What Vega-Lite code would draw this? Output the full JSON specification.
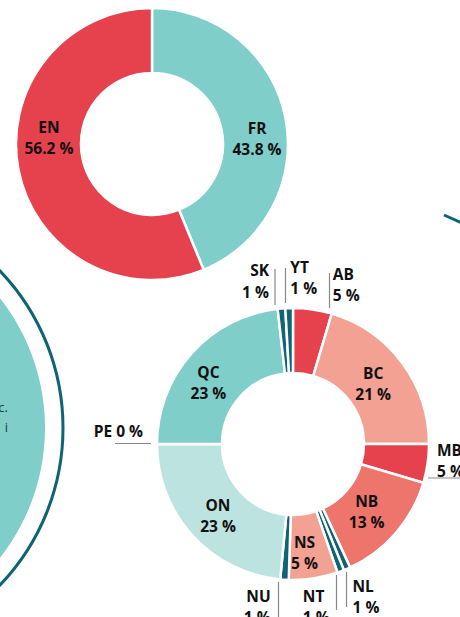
{
  "$schema": "https://vega.github.io/schema/vega-lite/v6.json",
  "width": 460,
  "height": 617,
  "autosize": {"type": "none"},
  "padding": 0,
  "background": "white",
  "config": {
    "view": {"stroke": null},
    "text": {"font": "Open Sans", "fontWeight": "bold", "fontSize": 15.5, "lineBreak": "\n", "lineHeight": 21.2, "color": "#111111", "baseline": "middle"},
    "rule": {"color": "#888888", "strokeWidth": 1.2}
  },
  "data": {"values": [{"item": "canvas"}]},
  "datasets": {
    "lang": [
      {"lang": "FR", "share": 43.8, "label": "FR\n43.8 %"},
      {"lang": "EN", "share": 56.2, "label": "EN\n56.2 %"}
    ],
    "prov": [
      {"prov": "AB", "share": 4.6, "rank": 1, "label": "AB\n5 %"},
      {"prov": "BC", "share": 20.4, "rank": 2, "label": "BC\n21 %"},
      {"prov": "MB", "share": 4.6, "rank": 3, "label": "MB\n5 %"},
      {"prov": "NB", "share": 13.5, "rank": 4, "label": "NB\n13 %"},
      {"prov": "NL", "share": 0.8, "rank": 5, "label": "NL\n1 %"},
      {"prov": "NT", "share": 0.8, "rank": 6, "label": "NT\n1 %"},
      {"prov": "NS", "share": 5.8, "rank": 7, "label": "NS\n5 %"},
      {"prov": "NU", "share": 1.0, "rank": 8, "label": "NU\n1 %"},
      {"prov": "ON", "share": 23.5, "rank": 9, "label": "ON\n23 %"},
      {"prov": "PE", "share": 0, "rank": 10, "label": "PE 0 %"},
      {"prov": "QC", "share": 23.2, "rank": 11, "label": "QC\n23 %"},
      {"prov": "SK", "share": 0.9, "rank": 12, "label": "SK\n1 %"},
      {"prov": "YT", "share": 0.9, "rank": 13, "label": "YT\n1 %"}
    ]
  },
  "resolve": {"scale": {"color": "independent", "theta": "independent"}},
  "layer": [
    {
      "mark": {"type": "point", "shape": "circle", "filled": true, "opacity": 1, "size": 174724, "color": "#7FCECA", "strokeWidth": 0},
      "encoding": {
        "x": {"datum": -164, "type": "quantitative", "scale": {"domain": [0, 460], "nice": false, "zero": false}, "axis": null},
        "y": {"datum": 428, "type": "quantitative", "scale": {"domain": [0, 617], "nice": false, "zero": false, "reverse": true}, "axis": null}
      }
    },
    {
      "mark": {"type": "point", "shape": "circle", "filled": false, "opacity": 1, "size": 206116, "color": "#0E6374", "strokeWidth": 3},
      "encoding": {
        "x": {"datum": -164, "type": "quantitative", "scale": {"domain": [0, 460], "nice": false, "zero": false}, "axis": null},
        "y": {"datum": 428, "type": "quantitative", "scale": {"domain": [0, 617], "nice": false, "zero": false, "reverse": true}, "axis": null}
      }
    },
    {
      "mark": {"type": "text", "align": "right", "baseline": "alphabetic", "fontWeight": "normal", "fontSize": 13, "color": "#1d3b40", "lineBreak": "|", "lineHeight": 20},
      "encoding": {
        "text": {"value": "c.|i"},
        "x": {"datum": 8, "type": "quantitative", "scale": {"domain": [0, 460], "nice": false, "zero": false}, "axis": null},
        "y": {"datum": 412, "type": "quantitative", "scale": {"domain": [0, 617], "nice": false, "zero": false, "reverse": true}, "axis": null}
      }
    },
    {
      "mark": {"type": "rule", "color": "#0E6374", "strokeWidth": 3},
      "encoding": {
        "x": {"datum": 444, "type": "quantitative", "scale": {"domain": [0, 460], "nice": false, "zero": false}, "axis": null},
        "x2": {"datum": 462},
        "y": {"datum": 215, "type": "quantitative", "scale": {"domain": [0, 617], "nice": false, "zero": false, "reverse": true}, "axis": null},
        "y2": {"datum": 223}
      }
    },
    {
      "data": {"name": "lang"},
      "mark": {"type": "arc", "outerRadius": 136, "innerRadius": 71, "stroke": "white", "strokeWidth": 2.5},
      "encoding": {
        "x": {"datum": 152, "type": "quantitative", "scale": {"domain": [0, 460], "nice": false, "zero": false}, "axis": null},
        "y": {"datum": 144, "type": "quantitative", "scale": {"domain": [0, 617], "nice": false, "zero": false, "reverse": true}, "axis": null},
        "theta": {"field": "share", "type": "quantitative", "stack": true},
        "order": {"field": "lang", "sort": "descending"},
        "color": {"field": "lang", "type": "nominal", "scale": {"domain": ["EN", "FR"], "range": ["#E5424D", "#7FCECA"]}, "legend": null}
      }
    },
    {
      "data": {"name": "lang"},
      "transform": [{"stack": "share", "groupby": [], "sort": [{"field": "lang", "order": "descending"}], "as": ["s0", "s1"]}, {"filter": "datum.lang === 'FR'"}],
      "mark": {"type": "text", "radius": 105, "dx": 105, "dy": 89.5},
      "encoding": {
        "x": {"datum": 152, "type": "quantitative", "scale": {"domain": [0, 460], "nice": false, "zero": false}, "axis": null},
        "y": {"datum": 144, "type": "quantitative", "scale": {"domain": [0, 617], "nice": false, "zero": false, "reverse": true}, "axis": null},
        "theta": {"field": "s0", "type": "quantitative", "scale": {"domain": [0, 100]}},
        "text": {"field": "label"}
      }
    },
    {
      "data": {"name": "lang"},
      "transform": [{"stack": "share", "groupby": [], "sort": [{"field": "lang", "order": "descending"}], "as": ["s0", "s1"]}, {"filter": "datum.lang === 'EN'"}],
      "mark": {"type": "text", "radius": 105, "dx": -142.9, "dy": -113},
      "encoding": {
        "x": {"datum": 152, "type": "quantitative", "scale": {"domain": [0, 460], "nice": false, "zero": false}, "axis": null},
        "y": {"datum": 144, "type": "quantitative", "scale": {"domain": [0, 617], "nice": false, "zero": false, "reverse": true}, "axis": null},
        "theta": {"field": "s0", "type": "quantitative", "scale": {"domain": [0, 100]}},
        "text": {"field": "label"}
      }
    },
    {
      "data": {"name": "prov"},
      "mark": {"type": "arc", "outerRadius": 136, "innerRadius": 71, "stroke": "white", "strokeWidth": 2.5},
      "encoding": {
        "x": {"datum": 293, "type": "quantitative", "scale": {"domain": [0, 460], "nice": false, "zero": false}, "axis": null},
        "y": {"datum": 444, "type": "quantitative", "scale": {"domain": [0, 617], "nice": false, "zero": false, "reverse": true}, "axis": null},
        "theta": {"field": "share", "type": "quantitative", "stack": true},
        "order": {"field": "rank"},
        "color": {"field": "prov", "type": "nominal", "scale": {"domain": ["AB", "BC", "MB", "NB", "NL", "NT", "NS", "NU", "ON", "PE", "QC", "SK", "YT"], "range": ["#E5424D", "#F2A193", "#E5424D", "#EE756B", "#0E6374", "#0E6374", "#F2A193", "#0E6374", "#BDE3E1", "#BDE3E1", "#7FCECA", "#0E6374", "#0E6374"]}, "legend": null}
      }
    },
    {
      "data": {"name": "prov"},
      "transform": [{"stack": "share", "groupby": [], "sort": [{"field": "rank", "order": "ascending"}], "as": ["s0", "s1"]}, {"filter": "datum.prov === 'AB'"}],
      "mark": {"type": "text", "radius": 165, "dx": 39.8, "dy": -4.5, "align": "left"},
      "encoding": {
        "x": {"datum": 293, "type": "quantitative", "scale": {"domain": [0, 460], "nice": false, "zero": false}, "axis": null},
        "y": {"datum": 444, "type": "quantitative", "scale": {"domain": [0, 617], "nice": false, "zero": false, "reverse": true}, "axis": null},
        "theta": {"field": "s0", "type": "quantitative", "scale": {"domain": [0, 100]}},
        "text": {"field": "label"}
      }
    },
    {
      "data": {"name": "prov"},
      "transform": [{"stack": "share", "groupby": [], "sort": [{"field": "rank", "order": "ascending"}], "as": ["s0", "s1"]}, {"filter": "datum.prov === 'BC'"}],
      "mark": {"type": "text", "radius": 100, "dx": 51.7, "dy": 25.5},
      "encoding": {
        "x": {"datum": 293, "type": "quantitative", "scale": {"domain": [0, 460], "nice": false, "zero": false}, "axis": null},
        "y": {"datum": 444, "type": "quantitative", "scale": {"domain": [0, 617], "nice": false, "zero": false, "reverse": true}, "axis": null},
        "theta": {"field": "s0", "type": "quantitative", "scale": {"domain": [0, 100]}},
        "text": {"field": "label"}
      }
    },
    {
      "data": {"name": "prov"},
      "transform": [{"stack": "share", "groupby": [], "sort": [{"field": "rank", "order": "ascending"}], "as": ["s0", "s1"]}, {"filter": "datum.prov === 'MB'"}],
      "mark": {"type": "text", "radius": 165, "dx": -21, "dy": 7, "align": "left"},
      "encoding": {
        "x": {"datum": 293, "type": "quantitative", "scale": {"domain": [0, 460], "nice": false, "zero": false}, "axis": null},
        "y": {"datum": 444, "type": "quantitative", "scale": {"domain": [0, 617], "nice": false, "zero": false, "reverse": true}, "axis": null},
        "theta": {"field": "s0", "type": "quantitative", "scale": {"domain": [0, 100]}},
        "text": {"field": "label"}
      }
    },
    {
      "data": {"name": "prov"},
      "transform": [{"stack": "share", "groupby": [], "sort": [{"field": "rank", "order": "ascending"}], "as": ["s0", "s1"]}, {"filter": "datum.prov === 'NB'"}],
      "mark": {"type": "text", "radius": 100, "dx": -22.2, "dy": 29.2},
      "encoding": {
        "x": {"datum": 293, "type": "quantitative", "scale": {"domain": [0, 460], "nice": false, "zero": false}, "axis": null},
        "y": {"datum": 444, "type": "quantitative", "scale": {"domain": [0, 617], "nice": false, "zero": false, "reverse": true}, "axis": null},
        "theta": {"field": "s0", "type": "quantitative", "scale": {"domain": [0, 100]}},
        "text": {"field": "label"}
      }
    },
    {
      "data": {"name": "prov"},
      "transform": [{"stack": "share", "groupby": [], "sort": [{"field": "rank", "order": "ascending"}], "as": ["s0", "s1"]}, {"filter": "datum.prov === 'NL'"}],
      "mark": {"type": "text", "radius": 165, "dx": -9.8, "dy": -7, "align": "left"},
      "encoding": {
        "x": {"datum": 293, "type": "quantitative", "scale": {"domain": [0, 460], "nice": false, "zero": false}, "axis": null},
        "y": {"datum": 444, "type": "quantitative", "scale": {"domain": [0, 617], "nice": false, "zero": false, "reverse": true}, "axis": null},
        "theta": {"field": "s0", "type": "quantitative", "scale": {"domain": [0, 100]}},
        "text": {"field": "label"}
      }
    },
    {
      "data": {"name": "prov"},
      "transform": [{"stack": "share", "groupby": [], "sort": [{"field": "rank", "order": "ascending"}], "as": ["s0", "s1"]}, {"filter": "datum.prov === 'NT'"}],
      "mark": {"type": "text", "radius": 165, "dx": -51.9, "dy": 0, "align": "left"},
      "encoding": {
        "x": {"datum": 293, "type": "quantitative", "scale": {"domain": [0, 460], "nice": false, "zero": false}, "axis": null},
        "y": {"datum": 444, "type": "quantitative", "scale": {"domain": [0, 617], "nice": false, "zero": false, "reverse": true}, "axis": null},
        "theta": {"field": "s0", "type": "quantitative", "scale": {"domain": [0, 100]}},
        "text": {"field": "label"}
      }
    },
    {
      "data": {"name": "prov"},
      "transform": [{"stack": "share", "groupby": [], "sort": [{"field": "rank", "order": "ascending"}], "as": ["s0", "s1"]}, {"filter": "datum.prov === 'NS'"}],
      "mark": {"type": "text", "radius": 110, "dx": -24.5, "dy": -5},
      "encoding": {
        "x": {"datum": 293, "type": "quantitative", "scale": {"domain": [0, 460], "nice": false, "zero": false}, "axis": null},
        "y": {"datum": 444, "type": "quantitative", "scale": {"domain": [0, 617], "nice": false, "zero": false, "reverse": true}, "axis": null},
        "theta": {"field": "s0", "type": "quantitative", "scale": {"domain": [0, 100]}},
        "text": {"field": "label"}
      }
    },
    {
      "data": {"name": "prov"},
      "transform": [{"stack": "share", "groupby": [], "sort": [{"field": "rank", "order": "ascending"}], "as": ["s0", "s1"]}, {"filter": "datum.prov === 'NU'"}],
      "mark": {"type": "text", "radius": 165, "dx": -17.2, "dy": -12.4, "align": "right"},
      "encoding": {
        "x": {"datum": 293, "type": "quantitative", "scale": {"domain": [0, 460], "nice": false, "zero": false}, "axis": null},
        "y": {"datum": 444, "type": "quantitative", "scale": {"domain": [0, 617], "nice": false, "zero": false, "reverse": true}, "axis": null},
        "theta": {"field": "s0", "type": "quantitative", "scale": {"domain": [0, 100]}},
        "text": {"field": "label"}
      }
    },
    {
      "data": {"name": "prov"},
      "transform": [{"stack": "share", "groupby": [], "sort": [{"field": "rank", "order": "ascending"}], "as": ["s0", "s1"]}, {"filter": "datum.prov === 'ON'"}],
      "mark": {"type": "text", "radius": 100, "dx": -65.6, "dy": -38},
      "encoding": {
        "x": {"datum": 293, "type": "quantitative", "scale": {"domain": [0, 460], "nice": false, "zero": false}, "axis": null},
        "y": {"datum": 444, "type": "quantitative", "scale": {"domain": [0, 617], "nice": false, "zero": false, "reverse": true}, "axis": null},
        "theta": {"field": "s0", "type": "quantitative", "scale": {"domain": [0, 100]}},
        "text": {"field": "label"}
      }
    },
    {
      "data": {"name": "prov"},
      "transform": [{"stack": "share", "groupby": [], "sort": [{"field": "rank", "order": "ascending"}], "as": ["s0", "s1"]}, {"filter": "datum.prov === 'PE'"}],
      "mark": {"type": "text", "radius": 165, "dx": 15, "dy": -12, "align": "right"},
      "encoding": {
        "x": {"datum": 293, "type": "quantitative", "scale": {"domain": [0, 460], "nice": false, "zero": false}, "axis": null},
        "y": {"datum": 444, "type": "quantitative", "scale": {"domain": [0, 617], "nice": false, "zero": false, "reverse": true}, "axis": null},
        "theta": {"field": "s0", "type": "quantitative", "scale": {"domain": [0, 100]}},
        "text": {"field": "label"}
      }
    },
    {
      "data": {"name": "prov"},
      "transform": [{"stack": "share", "groupby": [], "sort": [{"field": "rank", "order": "ascending"}], "as": ["s0", "s1"]}, {"filter": "datum.prov === 'QC'"}],
      "mark": {"type": "text", "radius": 100, "dx": 15.4, "dy": -71.2},
      "encoding": {
        "x": {"datum": 293, "type": "quantitative", "scale": {"domain": [0, 460], "nice": false, "zero": false}, "axis": null},
        "y": {"datum": 444, "type": "quantitative", "scale": {"domain": [0, 617], "nice": false, "zero": false, "reverse": true}, "axis": null},
        "theta": {"field": "s0", "type": "quantitative", "scale": {"domain": [0, 100]}},
        "text": {"field": "label"}
      }
    },
    {
      "data": {"name": "prov"},
      "transform": [{"stack": "share", "groupby": [], "sort": [{"field": "rank", "order": "ascending"}], "as": ["s0", "s1"]}, {"filter": "datum.prov === 'SK'"}],
      "mark": {"type": "text", "radius": 165, "dx": -5.4, "dy": -8.7, "align": "right"},
      "encoding": {
        "x": {"datum": 293, "type": "quantitative", "scale": {"domain": [0, 460], "nice": false, "zero": false}, "axis": null},
        "y": {"datum": 444, "type": "quantitative", "scale": {"domain": [0, 617], "nice": false, "zero": false, "reverse": true}, "axis": null},
        "theta": {"field": "s0", "type": "quantitative", "scale": {"domain": [0, 100]}},
        "text": {"field": "label"}
      }
    },
    {
      "data": {"name": "prov"},
      "transform": [{"stack": "share", "groupby": [], "sort": [{"field": "rank", "order": "ascending"}], "as": ["s0", "s1"]}, {"filter": "datum.prov === 'YT'"}],
      "mark": {"type": "text", "radius": 165, "dx": 6.6, "dy": -11.5, "align": "left"},
      "encoding": {
        "x": {"datum": 293, "type": "quantitative", "scale": {"domain": [0, 460], "nice": false, "zero": false}, "axis": null},
        "y": {"datum": 444, "type": "quantitative", "scale": {"domain": [0, 617], "nice": false, "zero": false, "reverse": true}, "axis": null},
        "theta": {"field": "s0", "type": "quantitative", "scale": {"domain": [0, 100]}},
        "text": {"field": "label"}
      }
    },
    {
      "mark": {"type": "rule"},
      "encoding": {
        "x": {"datum": 275, "type": "quantitative", "scale": {"domain": [0, 460], "nice": false, "zero": false}, "axis": null},
        "y": {"datum": 269, "type": "quantitative", "scale": {"domain": [0, 617], "nice": false, "zero": false, "reverse": true}, "axis": null},
        "y2": {"datum": 305}
      }
    },
    {
      "mark": {"type": "rule"},
      "encoding": {
        "x": {"datum": 285.5, "type": "quantitative", "scale": {"domain": [0, 460], "nice": false, "zero": false}, "axis": null},
        "y": {"datum": 268, "type": "quantitative", "scale": {"domain": [0, 617], "nice": false, "zero": false, "reverse": true}, "axis": null},
        "y2": {"datum": 303}
      }
    },
    {
      "mark": {"type": "rule"},
      "encoding": {
        "x": {"datum": 329.5, "type": "quantitative", "scale": {"domain": [0, 460], "nice": false, "zero": false}, "axis": null},
        "y": {"datum": 273, "type": "quantitative", "scale": {"domain": [0, 617], "nice": false, "zero": false, "reverse": true}, "axis": null},
        "y2": {"datum": 308}
      }
    },
    {
      "mark": {"type": "rule"},
      "encoding": {
        "x": {"datum": 278.5, "type": "quantitative", "scale": {"domain": [0, 460], "nice": false, "zero": false}, "axis": null},
        "y": {"datum": 582, "type": "quantitative", "scale": {"domain": [0, 617], "nice": false, "zero": false, "reverse": true}, "axis": null},
        "y2": {"datum": 617}
      }
    },
    {
      "mark": {"type": "rule"},
      "encoding": {
        "x": {"datum": 336.5, "type": "quantitative", "scale": {"domain": [0, 460], "nice": false, "zero": false}, "axis": null},
        "y": {"datum": 575, "type": "quantitative", "scale": {"domain": [0, 617], "nice": false, "zero": false, "reverse": true}, "axis": null},
        "y2": {"datum": 610}
      }
    },
    {
      "mark": {"type": "rule"},
      "encoding": {
        "x": {"datum": 346.5, "type": "quantitative", "scale": {"domain": [0, 460], "nice": false, "zero": false}, "axis": null},
        "y": {"datum": 572, "type": "quantitative", "scale": {"domain": [0, 617], "nice": false, "zero": false, "reverse": true}, "axis": null},
        "y2": {"datum": 607}
      }
    },
    {
      "mark": {"type": "rule"},
      "encoding": {
        "x": {"datum": 428, "type": "quantitative", "scale": {"domain": [0, 460], "nice": false, "zero": false}, "axis": null},
        "x2": {"datum": 462},
        "y": {"datum": 478, "type": "quantitative", "scale": {"domain": [0, 617], "nice": false, "zero": false, "reverse": true}, "axis": null}
      }
    },
    {
      "mark": {"type": "rule"},
      "encoding": {
        "x": {"datum": 115, "type": "quantitative", "scale": {"domain": [0, 460], "nice": false, "zero": false}, "axis": null},
        "x2": {"datum": 151},
        "y": {"datum": 443.5, "type": "quantitative", "scale": {"domain": [0, 617], "nice": false, "zero": false, "reverse": true}, "axis": null}
      }
    }
  ]
}
